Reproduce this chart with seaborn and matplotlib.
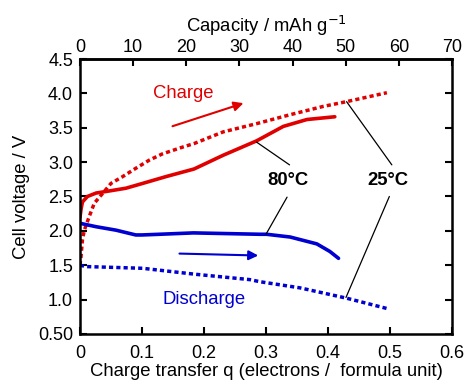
import numpy as np
import pandas as pd
import matplotlib
matplotlib.use('Agg')
import matplotlib.pyplot as plt
import seaborn as sns

# charge at 25 C (dotted red)
q_chg25 = [0.0, 0.0016, 0.004, 0.007, 0.015, 0.023, 0.037, 0.050, 0.069, 0.090, 0.112, 0.133,
           0.166, 0.184, 0.231, 0.285, 0.339, 0.392, 0.430, 0.495]
v_chg25 = [1.50, 1.62, 1.87, 2.01, 2.21, 2.40, 2.55, 2.69, 2.79, 2.91, 3.03, 3.12,
           3.22, 3.27, 3.44, 3.56, 3.69, 3.81, 3.88, 4.01]
# charge at 80 C (solid red)
q_chg80 = [0.0, 0.002, 0.004, 0.012, 0.026, 0.047, 0.074, 0.101, 0.139, 0.184, 0.231,
           0.285, 0.328, 0.366, 0.411]
v_chg80 = [2.20, 2.33, 2.42, 2.50, 2.55, 2.58, 2.62, 2.69, 2.79, 2.90, 3.10,
           3.31, 3.52, 3.62, 3.66]
# discharge at 80 C (solid blue)
q_dis80 = [0.0, 0.026, 0.058, 0.090, 0.100, 0.128, 0.183, 0.29, 0.301, 0.339, 0.382, 0.403, 0.417]
v_dis80 = [2.11, 2.06, 2.01, 1.94, 1.94, 1.95, 1.97, 1.95, 1.95, 1.91, 1.81, 1.70, 1.60]
# discharge at 25 C (dotted blue)
q_dis25 = [0.0, 0.010, 0.101, 0.184, 0.274, 0.29, 0.355, 0.43, 0.495]
v_dis25 = [1.50, 1.48, 1.455, 1.37, 1.29, 1.26, 1.17, 1.02, 0.87]

x_ticks = [0, 0.1, 0.2, 0.3, 0.4, 0.5, 0.6]
x_labels = ["0", "0.1", "0.2", "0.3", "0.4", "0.5", "0.6"]
y_ticks = [0.5, 1.0, 1.5, 2.0, 2.5, 3.0, 3.5, 4.0, 4.5]
y_labels = ["0.50", "1.0", "1.5", "2.0", "2.5", "3.0", "3.5", "4.0", "4.5"]
cap_ticks = [0, 10, 20, 30, 40, 50, 60, 70]

sns.set_style("ticks")
plt.rcParams['font.family'] = ['Liberation Sans', 'DejaVu Sans']
plt.rcParams['xtick.direction'] = 'in'
plt.rcParams['ytick.direction'] = 'in'
plt.rcParams['text.color'] = 'black'
plt.rcParams['axes.labelcolor'] = 'black'
plt.rcParams['axes.edgecolor'] = 'black'
plt.rcParams['xtick.color'] = 'black'
plt.rcParams['ytick.color'] = 'black'

fig = plt.figure(figsize=(4.65, 3.91), dpi=100)
ax = fig.add_axes([0.172, 0.146, 0.8, 0.703])

red = "#e00000"
blue = "#0000d0"
dot = (0, (1.2, 0.9))

sns.lineplot(x=q_chg25, y=v_chg25, ax=ax, color=red, lw=2.5, linestyle=dot, estimator=None)
sns.lineplot(x=q_chg80, y=v_chg80, ax=ax, color=red, lw=2.6, estimator=None)
sns.lineplot(x=q_dis80, y=v_dis80, ax=ax, color=blue, lw=2.6, estimator=None)
sns.lineplot(x=q_dis25, y=v_dis25, ax=ax, color=blue, lw=2.5, linestyle=dot, estimator=None)

ax.set_xlim(0, 0.6)
ax.set_ylim(0.5, 4.5)
ax.set_xticks(x_ticks)
ax.set_xticklabels(x_labels)
ax.set_yticks(y_ticks)
ax.set_yticklabels(y_labels)
ax.tick_params(labelsize=13, width=1.5, length=5, right=True)
ax.tick_params(axis='x', pad=8)
ax.tick_params(axis='y', pad=5)
for s in ax.spines.values():
    s.set_linewidth(1.8)
    s.set_visible(True)

ax.set_xlabel("Charge transfer q (electrons /  formula unit)", fontsize=13.3, labelpad=1)
ax.set_ylabel("Cell voltage / V", fontsize=13.3, labelpad=6)

top = ax.secondary_xaxis('top', functions=(lambda q: q * 70 / 0.6, lambda c: c * 0.6 / 70))
top.set_xticks(cap_ticks)
top.tick_params(labelsize=13, width=1.5, length=5, direction='in', pad=2)
top.spines['top'].set_linewidth(1.8)
top.set_xlabel("Capacity / mAh g$^{-1}$", fontsize=13.3, labelpad=5)

# annotations
ax.text(0.166, 4.0, "Charge", color=red, fontsize=13.3, ha='center', va='center')
ax.annotate("", xy=(0.268, 3.87), xytext=(0.145, 3.51),
            arrowprops=dict(arrowstyle='-|>', color=red, lw=1.5, mutation_scale=14))
ax.text(0.2, 0.995, "Discharge", color=blue, fontsize=13.3, ha='center', va='center')
ax.annotate("", xy=(0.292, 1.64), xytext=(0.156, 1.67),
            arrowprops=dict(arrowstyle='-|>', color=blue, lw=1.5, mutation_scale=14))

ax.text(0.335, 2.73, "80°C", fontsize=13.3, fontweight='bold', ha='center', va='center')
ax.text(0.496, 2.73, "25°C", fontsize=13.3, fontweight='bold', ha='center', va='center')
ax.plot([0.338, 0.285], [2.96, 3.29], color='k', lw=0.9)
ax.plot([0.334, 0.300], [2.49, 1.95], color='k', lw=0.9)
ax.plot([0.503, 0.430], [2.96, 3.88], color='k', lw=0.9)
ax.plot([0.499, 0.429], [2.50, 1.03], color='k', lw=0.9)

fig.savefig("out.png", dpi=100)
